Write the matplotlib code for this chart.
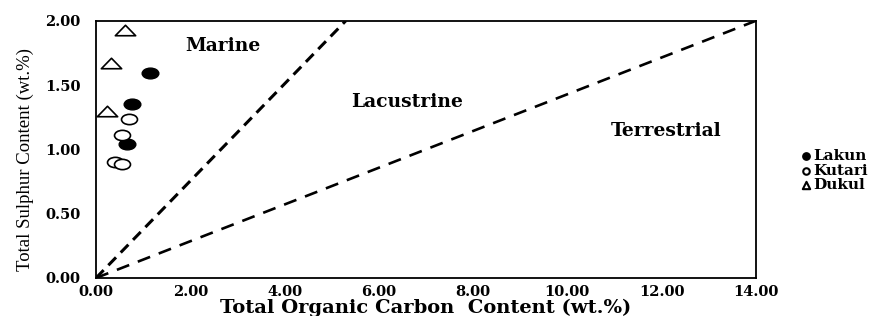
import matplotlib
matplotlib.use("Agg")
import matplotlib.pyplot as plt
from matplotlib.markers import MarkerStyle
from matplotlib.transforms import Affine2D

plt.rcParams['font.family'] = ['DejaVu Serif', 'Liberation Serif']

lakun_toc = [1.15, 0.76, 0.65]
lakun_ts = [1.59, 1.35, 1.04]
kutari_toc = [0.69, 0.55, 0.40, 0.56]
kutari_ts = [1.24, 1.11, 0.90, 0.89]
dukul_toc = [0.62, 0.32, 0.23]
dukul_ts = [1.93, 1.67, 1.30]

marine_line_x = [0.0, 5.3]
marine_line_y = [0.0, 2.0]
terr_line_x = [0.0, 14.0]
terr_line_y = [0.0, 2.0]

xticks = [0, 2, 4, 6, 8, 10, 12, 14]
yticks = [0, 0.5, 1.0, 1.5, 2.0]

fig = plt.figure(figsize=(8.93, 3.16), dpi=100)
ax = fig.add_axes([0.1075, 0.1203, 0.739, 0.814])

ax.plot(marine_line_x, marine_line_y, color='black', lw=2.2, ls=(0, (3.6, 2.2)))
ax.plot(terr_line_x, terr_line_y, color='black', lw=1.9, ls=(0, (5, 3.5)))

m_circ = MarkerStyle('o', transform=Affine2D().scale(1.55, 1.0))
m_tri = MarkerStyle('^', transform=Affine2D().scale(1.75, 0.9))

ax.scatter(lakun_toc, lakun_ts, marker=m_circ, s=60, facecolor='black', edgecolor='black', lw=1, zorder=3)
ax.scatter(kutari_toc, kutari_ts, marker=m_circ, s=55, facecolor='white', edgecolor='black', lw=1.2, zorder=3)
ax.scatter(dukul_toc, dukul_ts, marker=m_tri, s=70, facecolor='white', edgecolor='black', lw=1.2, zorder=3)

ax.text(2.69, 1.80, 'Marine', ha='center', va='center', fontsize=13.5, fontweight='bold')
ax.text(6.6, 1.37, 'Lacustrine', ha='center', va='center', fontsize=13.5, fontweight='bold')
ax.text(12.09, 1.145, 'Terrestrial', ha='center', va='center', fontsize=13.5, fontweight='bold')

ax.set_xlim(0, 14)
ax.set_ylim(0, 2)
ax.set_xticks(xticks)
ax.set_xticklabels([f'{v:.2f}' for v in xticks])
ax.set_yticks(yticks)
ax.set_yticklabels([f'{v:.2f}' for v in yticks])
ax.tick_params(length=0, labelsize=10.5)
ax.tick_params(axis='x', pad=5)
ax.tick_params(axis='y', pad=11)
for lbl in ax.get_xticklabels() + ax.get_yticklabels():
    lbl.set_fontweight('bold')
for sp in ax.spines.values():
    sp.set_linewidth(1.3)

ax.set_xlabel('Total Organic Carbon  Content (wt.%)', fontsize=14, fontweight='bold', labelpad=0)
ax.set_ylabel('Total Sulphur Content (wt.%)', fontsize=13.5,
              family=['Liberation Serif', 'DejaVu Serif'])
ax.yaxis.set_label_coords(-0.094, 0.4625)

h1 = ax.scatter([], [], marker='o', s=28, facecolor='black', edgecolor='black')
h2 = ax.scatter([], [], marker='o', s=22, facecolor='white', edgecolor='black', lw=1.5)
h3 = ax.scatter([], [], marker='^', s=28, facecolor='white', edgecolor='black', lw=1.5)
leg = fig.legend([h1, h2, h3], ['Lakun', 'Kutari', 'Dukul'], loc='upper left',
                 bbox_to_anchor=(0.885, 0.553), frameon=False, handletextpad=0.0,
                 handlelength=1.0, labelspacing=0.05, borderpad=0,
                 prop={'weight': 'bold', 'size': 11})

fig.savefig('out.png', dpi=100)
